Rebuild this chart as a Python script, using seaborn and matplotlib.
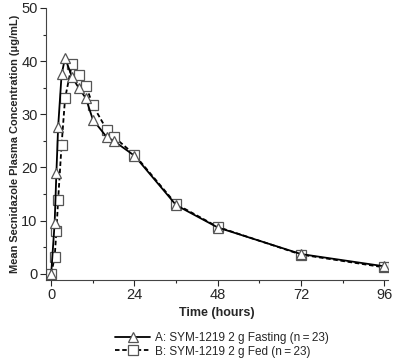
import numpy as np
import pandas as pd
import matplotlib
matplotlib.use('Agg')
import matplotlib.pyplot as plt
from matplotlib.ticker import MultipleLocator
import seaborn as sns

# sampling times (hours) and mean concentrations (ug/mL)
times = [0, 1, 1.5, 2, 3, 4, 6, 8, 10, 12, 16, 18, 24, 36, 48, 72, 96]
fasting = [0, 9.6, 19.0, 27.6, 37.5, 40.6, 37.0, 34.9, 33.0, 29.0, 25.7, 25.0, 22.2, 12.9, 8.7, 3.7, 1.4]
fed = [0, 3.1, 8.0, 13.9, 24.3, 33.0, 39.5, 37.4, 35.4, 31.7, 27.1, 25.8, 22.4, 13.1, 8.8, 3.6, 1.2]
labels = ['A: SYM-1219 2 g Fasting (n\u2009=\u200923)', 'B: SYM-1219 2 g Fed (n\u2009=\u200923)']

sns.set_style('ticks')
plt.rcParams['font.family'] = ['Liberation Sans', 'DejaVu Sans']

fig = plt.figure(figsize=(3.93, 3.61), dpi=100)
ax = fig.add_axes([0.117, 0.224, 0.870, 0.754])

mk = dict(markersize=7.5, markerfacecolor='white', markeredgecolor='#555555',
          markeredgewidth=0.9, color='black', linewidth=1.3)
# fed first so the fasting triangles sit on top
sns.lineplot(x=times, y=fed, marker='s', linestyle=(0, (2.5, 1.5)), ax=ax,
             label=labels[1], **mk)
sns.lineplot(x=times, y=fasting, marker='^', linestyle='-', ax=ax,
             label=labels[0], **mk)

ax.set_xlim(-1.5, 97)
ax.set_ylim(-1.2, 50)
ax.xaxis.set_major_locator(MultipleLocator(24))
ax.xaxis.set_minor_locator(MultipleLocator(12))
ax.yaxis.set_major_locator(MultipleLocator(10))
ax.yaxis.set_minor_locator(MultipleLocator(5))
ax.tick_params(which='major', length=4, width=0.8, labelsize=10.5, pad=2)
ax.tick_params(which='minor', length=2.5, width=0.8)
sns.despine(ax=ax)
ax.spines['left'].set_color('#444444')
ax.spines['bottom'].set_color('#444444')

ax.set_xlabel('Time (hours)', fontsize=9, fontweight='bold', labelpad=3)
ax.set_ylabel('Mean Secnidazole Plasma Concentration (\u03bcg/mL)', fontsize=7.9,
              fontweight='bold', labelpad=1)

handles, lbls = ax.get_legend_handles_labels()
ax.get_legend().remove()
order = [1, 0]
fig.legend([handles[i] for i in order], [lbls[i] for i in order],
           loc='lower center', bbox_to_anchor=(0.565, -0.01),
           frameon=False, fontsize=8.5, handlelength=3.0, handletextpad=0.4,
           labelspacing=0.15, borderaxespad=0.2)

fig.savefig('out.png', dpi=100)
